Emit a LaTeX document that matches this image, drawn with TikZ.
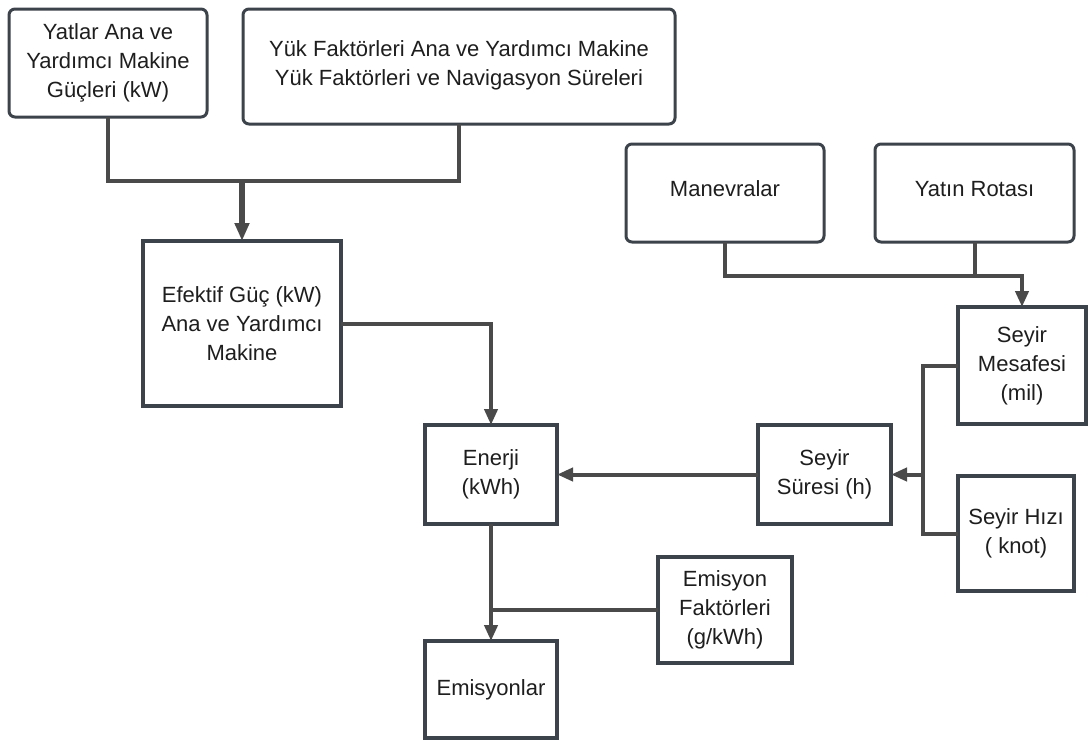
\documentclass[tikz,border=0pt]{standalone}
\usepackage{fontspec}
\setmainfont{Liberation Sans}
\usetikzlibrary{arrows.meta}
\definecolor{bordc}{HTML}{3C434B}
\definecolor{linec}{HTML}{4A4A4A}
\definecolor{txtc}{HTML}{1E1E1E}
\begin{document}
\begin{tikzpicture}[x=1pt,y=-1pt,
  every node/.style={font=\fontsize{22}{29}\selectfont, text=txtc, align=center, inner sep=0pt, outer sep=0pt},
  rbox/.style={draw=bordc, fill=white, line width=3pt, rounded corners=6pt},
  sbox/.style={draw=bordc, fill=white, line width=4.2pt},
  conn/.style={draw=linec, line width=4pt},
  arr/.style={conn, -{Triangle[length=16pt,width=13pt]}},
  arrthick/.style={draw=linec, line width=6pt, -{Triangle[length=18pt,width=14pt]}}]
\useasboundingbox (0,0) rectangle (1089,740);
\fill[white] (0,0) rectangle (1089,740);

\node[rbox, minimum width=198pt, minimum height=108pt] (b1) at (108,63) {Yatlar Ana ve\\Yardımcı Makine\\Güçleri (kW)};
\node[rbox, minimum width=432pt, minimum height=115pt] (b2) at (459,66.5) {Yük Faktörleri Ana ve Yardımcı Makine\\Yük Faktörleri ve Navigasyon Süreleri\\[-22pt]\mbox{}};
\node[sbox, minimum width=198pt, minimum height=165pt] (eff) at (242,323.5) {Efektif Güç (kW)\\Ana ve Yardımcı\\Makine};
\node[rbox, minimum width=198pt, minimum height=98pt] (man) at (725,193) {Manevralar\\[-20pt]\mbox{}};
\node[rbox, minimum width=199pt, minimum height=98pt] (rota) at (974.5,193) {Yatın Rotası\\[-20pt]\mbox{}};
\node[sbox, minimum width=128pt, minimum height=117pt] (mes) at (1022,365.5) {Seyir\\Mesafesi\\(mil)};
\node[sbox, minimum width=116pt, minimum height=115pt] (hiz) at (1016,533.5) {Seyir Hızı\\( knot)};
\node[sbox, minimum width=133pt, minimum height=99pt] (sure) at (824.5,474.5) {Seyir\\Süresi (h)};
\node[sbox, minimum width=132pt, minimum height=99pt] (ener) at (491,474.5) {Enerji\\(kWh)};
\node[sbox, minimum width=134pt, minimum height=106pt] (emf) at (725,610) {Emisyon\\Faktörleri\\(g/kWh)};
\node[sbox, minimum width=132pt, minimum height=97pt] (emis) at (491,689.5) {Emisyonlar};

\coordinate (j1) at (242,181);
\coordinate (j2) at (1022,276);
\coordinate (j3) at (923,474.5);

\draw[conn] (b1.south) -- (b1.south |- j1) -- (b2.south |- j1) -- (b2.south);
\draw[arrthick] (j1) -- (eff.north);
\draw[arr] (eff.east) -| (ener.north);
\draw[conn] (rota.south) -- (rota.south |- j2);
\draw[arr] (man.south) |- (j2) -- (mes.north);
\draw[conn] (mes.west) -| (j3) |- (hiz.west);
\draw[arr] (j3) -- (sure.east);
\draw[arr] (sure.west) -- (ener.east);
\draw[arr] (ener.south) -- (emis.north);
\draw[conn] (emf.west) -- (emf.west -| ener.south);
\end{tikzpicture}
\end{document}
